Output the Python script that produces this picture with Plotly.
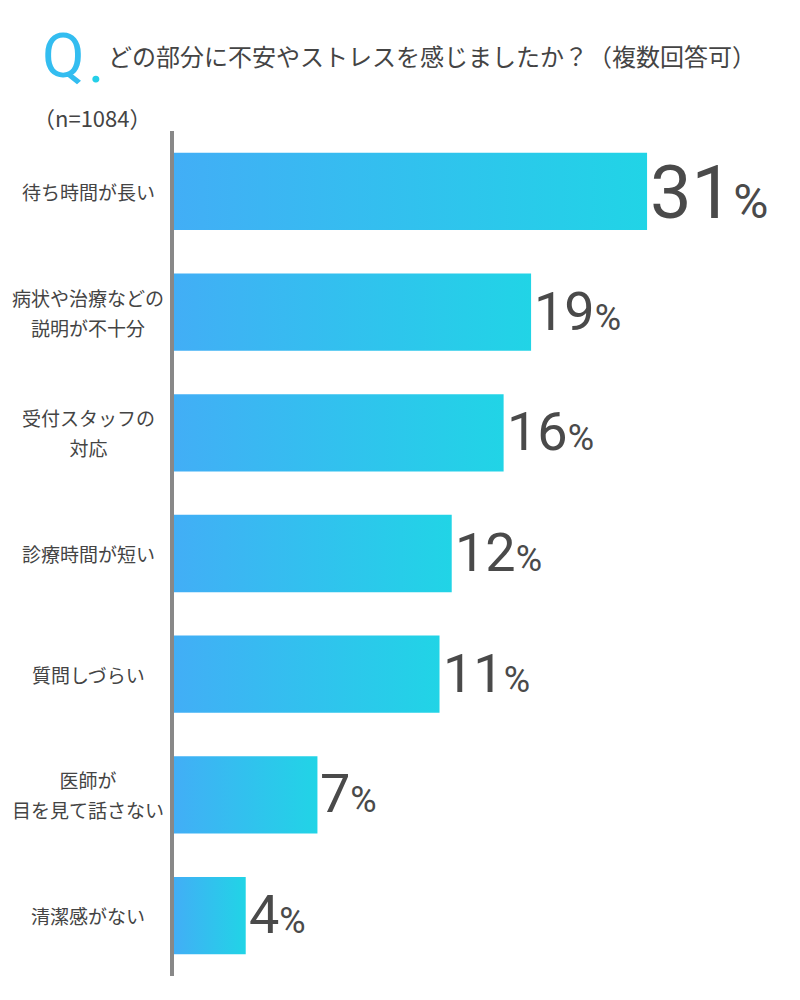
import plotly.graph_objects as go

# ---- data ----
categories = ["待ち時間が長い", "病状や治療などの<br>説明が不十分", "受付スタッフの<br>対応",
              "診療時間が短い", "質問しづらい", "医師が<br>目を見て話さない", "清潔感がない"]
pct_labels = [31, 19, 16, 12, 11, 7, 4]
# bar lengths as drawn in the infographic (not proportional to labels)
bar_len = [31.0, 23.4, 21.6, 18.2, 17.4, 9.4, 4.7]
title_text = "どの部分に不安やストレスを感じましたか？（複数回答可）"
n_text = "（n=1084）"

OFF = 8  # page body margin
W, H = 800, 1000
ML, MR, MT, MB = 174 - OFF, 16 + OFF, 131 - OFF, 24 + OFF
PW, PH = W - ML - MR, H - MT - MB

def px(x):  # page pixel -> paper
    return (x - OFF - ML) / PW

def py(y):
    return (H - MB - (y - OFF)) / PH

fig = go.Figure()
half = 0.32
for i, (c, v) in enumerate(zip(categories, bar_len)):
    fig.add_trace(go.Scatter(
        x=[0, v, v, 0, 0], y=[i - half, i - half, i + half, i + half, i - half],
        mode="lines", line=dict(width=0), fill="toself",
        fillgradient=dict(type="horizontal", colorscale=[[0, "#42aef6"], [1, "#21d4e6"]]),
        hoverinfo="skip", showlegend=False))

annotations = []
num_font = "Roboto, sans-serif"
for i, (c, p, v) in enumerate(zip(categories, pct_labels, bar_len)):
    big = i == 0
    fs = 74 if big else 54
    pfs = 48 if big else 36
    annotations.append(dict(
        x=v, y=i, xref="x", yref="y", xanchor="left", yanchor="middle",
        xshift=1, yshift=-1 if big else 1, showarrow=False,
        text=f"{p}<span style='font-size:{pfs}px'>%</span>",
        font=dict(family=num_font, size=fs, color="#4a4a4a")))
    lines = c.split("<br>")
    txt = "<br>".join(f"<span style='font-size:19px'>{l}</span>" for l in lines)
    annotations.append(dict(
        x=px(88), y=i, xref="paper", yref="y", xanchor="center", yanchor="middle",
        align="center", showarrow=False, text=txt,
        font=dict(family="Noto Sans CJK JP", size=23, color="#444444")))

annotations += [
    dict(x=px(40), y=py(56), xref="paper", yref="paper", xanchor="left", yanchor="middle",
         showarrow=False, text="Q",
         font=dict(family="Roboto", size=62, color="#33bdf0")),
    dict(x=px(86), y=py(60), xref="paper", yref="paper", xanchor="left", yanchor="middle",
         showarrow=False, text=".",
         font=dict(family="Roboto", size=62, color="#25cfe8")),
    dict(x=px(106), y=py(56), xref="paper", yref="paper", xanchor="left", yanchor="middle",
         showarrow=False, text=title_text,
         font=dict(family="Noto Sans CJK JP", size=24, color="#444444")),
    dict(x=px(31), y=py(117), xref="paper", yref="paper", xanchor="left", yanchor="middle",
         showarrow=False, text=n_text,
         font=dict(family="Noto Sans CJK JP", size=22, color="#444444")),
]

fig.update_layout(
    width=W, height=H, margin=dict(l=ML, r=MR, t=MT, b=MB),
    paper_bgcolor="white", plot_bgcolor="white",
    xaxis=dict(range=[0, PW / 15.26], visible=False, fixedrange=True),
    yaxis=dict(range=[6.5, -0.5], showline=True, linecolor="#888888", linewidth=4,
               showticklabels=False, showgrid=False, zeroline=False, ticks=""),
    annotations=annotations,
)
fig.write_html("out.html")
